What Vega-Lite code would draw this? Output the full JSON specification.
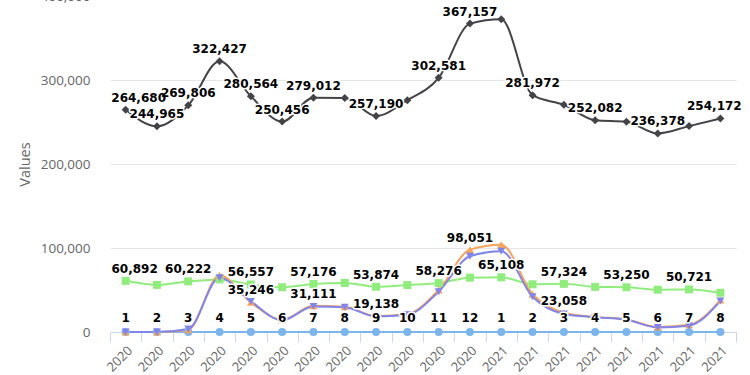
{
  "$schema": "https://vega.github.io/schema/vega-lite/v6.json",
  "width": 626,
  "height": 336,
  "autosize": {"type": "none"},
  "padding": {"left": 110, "right": 14, "top": -4, "bottom": 43},
  "config": {"view": {"stroke": null}, "font": "Open Sans"},
  "data": {"values": [
    {"p":"2020-01","m":1,"s":"s1","v":0,"l":0},{"p":"2020-02","m":2,"s":"s1","v":0,"l":0},{"p":"2020-03","m":3,"s":"s1","v":0,"l":0},{"p":"2020-04","m":4,"s":"s1","v":0,"l":0},{"p":"2020-05","m":5,"s":"s1","v":0,"l":0},{"p":"2020-06","m":6,"s":"s1","v":0,"l":0},{"p":"2020-07","m":7,"s":"s1","v":0,"l":0},{"p":"2020-08","m":8,"s":"s1","v":0,"l":0},{"p":"2020-09","m":9,"s":"s1","v":0,"l":0},{"p":"2020-10","m":10,"s":"s1","v":0,"l":0},{"p":"2020-11","m":11,"s":"s1","v":0,"l":0},{"p":"2020-12","m":12,"s":"s1","v":0,"l":0},{"p":"2021-01","m":1,"s":"s1","v":0,"l":0},{"p":"2021-02","m":2,"s":"s1","v":0,"l":0},{"p":"2021-03","m":3,"s":"s1","v":0,"l":0},{"p":"2021-04","m":4,"s":"s1","v":0,"l":0},{"p":"2021-05","m":5,"s":"s1","v":0,"l":0},{"p":"2021-06","m":6,"s":"s1","v":0,"l":0},{"p":"2021-07","m":7,"s":"s1","v":0,"l":0},{"p":"2021-08","m":8,"s":"s1","v":0,"l":0},
    {"p":"2020-01","m":1,"s":"s2","v":264680,"l":1},{"p":"2020-02","m":2,"s":"s2","v":244965,"l":1},{"p":"2020-03","m":3,"s":"s2","v":269806,"l":1},{"p":"2020-04","m":4,"s":"s2","v":322427,"l":1},{"p":"2020-05","m":5,"s":"s2","v":280564,"l":1},{"p":"2020-06","m":6,"s":"s2","v":250456,"l":1},{"p":"2020-07","m":7,"s":"s2","v":279012,"l":1},{"p":"2020-08","m":8,"s":"s2","v":278500,"l":0},{"p":"2020-09","m":9,"s":"s2","v":257190,"l":1},{"p":"2020-10","m":10,"s":"s2","v":276000,"l":0},{"p":"2020-11","m":11,"s":"s2","v":302581,"l":1},{"p":"2020-12","m":12,"s":"s2","v":367157,"l":1},{"p":"2021-01","m":1,"s":"s2","v":372400,"l":0},{"p":"2021-02","m":2,"s":"s2","v":281972,"l":1},{"p":"2021-03","m":3,"s":"s2","v":270400,"l":0},{"p":"2021-04","m":4,"s":"s2","v":252082,"l":1},{"p":"2021-05","m":5,"s":"s2","v":250400,"l":0},{"p":"2021-06","m":6,"s":"s2","v":236378,"l":1},{"p":"2021-07","m":7,"s":"s2","v":245100,"l":0},{"p":"2021-08","m":8,"s":"s2","v":254172,"l":1},
    {"p":"2020-01","m":1,"s":"s3","v":60892,"l":1},{"p":"2020-02","m":2,"s":"s3","v":56100,"l":0},{"p":"2020-03","m":3,"s":"s3","v":60222,"l":1},{"p":"2020-04","m":4,"s":"s3","v":62600,"l":0},{"p":"2020-05","m":5,"s":"s3","v":56557,"l":1},{"p":"2020-06","m":6,"s":"s3","v":53300,"l":0},{"p":"2020-07","m":7,"s":"s3","v":57176,"l":1},{"p":"2020-08","m":8,"s":"s3","v":58400,"l":0},{"p":"2020-09","m":9,"s":"s3","v":53874,"l":1},{"p":"2020-10","m":10,"s":"s3","v":55900,"l":0},{"p":"2020-11","m":11,"s":"s3","v":58276,"l":1},{"p":"2020-12","m":12,"s":"s3","v":64700,"l":0},{"p":"2021-01","m":1,"s":"s3","v":65108,"l":1},{"p":"2021-02","m":2,"s":"s3","v":56800,"l":0},{"p":"2021-03","m":3,"s":"s3","v":57324,"l":1},{"p":"2021-04","m":4,"s":"s3","v":53700,"l":0},{"p":"2021-05","m":5,"s":"s3","v":53250,"l":1},{"p":"2021-06","m":6,"s":"s3","v":50300,"l":0},{"p":"2021-07","m":7,"s":"s3","v":50721,"l":1},{"p":"2021-08","m":8,"s":"s3","v":46700,"l":0},
    {"p":"2020-01","m":1,"s":"s4","v":0,"l":0},{"p":"2020-02","m":2,"s":"s4","v":0,"l":0},{"p":"2020-03","m":3,"s":"s4","v":2500,"l":0},{"p":"2020-04","m":4,"s":"s4","v":67500,"l":0},{"p":"2020-05","m":5,"s":"s4","v":35246,"l":1},{"p":"2020-06","m":6,"s":"s4","v":14500,"l":0},{"p":"2020-07","m":7,"s":"s4","v":31111,"l":1},{"p":"2020-08","m":8,"s":"s4","v":30000,"l":0},{"p":"2020-09","m":9,"s":"s4","v":19138,"l":1},{"p":"2020-10","m":10,"s":"s4","v":21500,"l":0},{"p":"2020-11","m":11,"s":"s4","v":50000,"l":0},{"p":"2020-12","m":12,"s":"s4","v":98051,"l":1},{"p":"2021-01","m":1,"s":"s4","v":104000,"l":0},{"p":"2021-02","m":2,"s":"s4","v":45000,"l":0},{"p":"2021-03","m":3,"s":"s4","v":23058,"l":1},{"p":"2021-04","m":4,"s":"s4","v":18000,"l":0},{"p":"2021-05","m":5,"s":"s4","v":15000,"l":0},{"p":"2021-06","m":6,"s":"s4","v":6000,"l":0},{"p":"2021-07","m":7,"s":"s4","v":8500,"l":0},{"p":"2021-08","m":8,"s":"s4","v":38000,"l":0},
    {"p":"2020-01","m":1,"s":"s5","v":0,"l":0},{"p":"2020-02","m":2,"s":"s5","v":0,"l":0},{"p":"2020-03","m":3,"s":"s5","v":3500,"l":0},{"p":"2020-04","m":4,"s":"s5","v":64500,"l":0},{"p":"2020-05","m":5,"s":"s5","v":36500,"l":0},{"p":"2020-06","m":6,"s":"s5","v":14000,"l":0},{"p":"2020-07","m":7,"s":"s5","v":30500,"l":0},{"p":"2020-08","m":8,"s":"s5","v":29500,"l":0},{"p":"2020-09","m":9,"s":"s5","v":18500,"l":0},{"p":"2020-10","m":10,"s":"s5","v":20500,"l":0},{"p":"2020-11","m":11,"s":"s5","v":48000,"l":0},{"p":"2020-12","m":12,"s":"s5","v":90200,"l":0},{"p":"2021-01","m":1,"s":"s5","v":96200,"l":0},{"p":"2021-02","m":2,"s":"s5","v":42000,"l":0},{"p":"2021-03","m":3,"s":"s5","v":21500,"l":0},{"p":"2021-04","m":4,"s":"s5","v":17500,"l":0},{"p":"2021-05","m":5,"s":"s5","v":14500,"l":0},{"p":"2021-06","m":6,"s":"s5","v":5500,"l":0},{"p":"2021-07","m":7,"s":"s5","v":7500,"l":0},{"p":"2021-08","m":8,"s":"s5","v":37000,"l":0}
  ]},
  "encoding": {
    "x": {
      "field": "p", "type": "nominal",
      "scale": {"type": "band", "paddingInner": 0, "paddingOuter": 0},
      "axis": {"title": null, "labelExpr": "substring(datum.label, 0, 4)", "labelAngle": -45, "labelFontSize": 13, "labelColor": "#666666", "tickBand": "extent", "tickColor": "#ccd6eb", "tickSize": 10, "domainColor": "#ccd6eb", "grid": false, "labelPadding": 2}
    },
    "y": {
      "field": "v", "type": "quantitative",
      "scale": {"domain": [0, 400000], "nice": false},
      "axis": {"title": "Values", "values": [0, 100000, 200000, 300000, 400000], "format": ",d", "domain": false, "ticks": false, "gridColor": "#e6e6e6", "labelColor": "#666666", "labelFontSize": 13.5, "labelPadding": 20, "titleColor": "#666666", "titleFontSize": 14.5, "titleFontWeight": "normal", "titlePadding": 8}
    },
    "color": {"field": "s", "type": "nominal", "scale": {"domain": ["s1", "s2", "s3", "s4", "s5"], "range": ["#7cb5ec", "#434348", "#90ed7d", "#f7a35c", "#8085e9"]}, "legend": null}
  },
  "layer": [
    {"mark": {"type": "line", "interpolate": "monotone", "strokeWidth": 2}},
    {"mark": {"type": "point", "filled": true, "opacity": 1, "size": 64},
     "encoding": {"shape": {"field": "s", "type": "nominal", "scale": {"domain": ["s1", "s2", "s3", "s4", "s5"], "range": ["circle", "diamond", "square", "triangle-up", "triangle-down"]}, "legend": null}}},
    {"transform": [{"filter": "datum.s == 's1'"}],
     "mark": {"type": "text", "font": "DejaVu Sans", "fontWeight": "bold", "fontSize": 12, "baseline": "bottom", "dy": -7, "stroke": "white", "strokeWidth": 3, "strokeJoin": "round"},
     "encoding": {"text": {"field": "m", "type": "nominal"}, "color": {"value": "white"}}},
    {"transform": [{"filter": "datum.s == 's1'"}],
     "mark": {"type": "text", "font": "DejaVu Sans", "fontWeight": "bold", "fontSize": 12, "baseline": "bottom", "dy": -7},
     "encoding": {"text": {"field": "m", "type": "nominal"}, "color": {"value": "#000000"}}},
    {"transform": [{"filter": "datum.s != 's1' && datum.l == 1"}],
     "mark": {"type": "text", "font": "DejaVu Sans", "fontWeight": "bold", "fontSize": 12, "baseline": "bottom", "dy": -5, "stroke": "white", "strokeWidth": 3, "strokeJoin": "round",
              "dx": {"expr": "datum.p == '2020-01' ? (datum.v > 99999 ? 13 : 9) : (datum.p == '2021-08' ? -6 : 0)"}},
     "encoding": {"text": {"field": "v", "type": "quantitative", "format": ","}, "color": {"value": "white"}}},
    {"transform": [{"filter": "datum.s != 's1' && datum.l == 1"}],
     "mark": {"type": "text", "font": "DejaVu Sans", "fontWeight": "bold", "fontSize": 12, "baseline": "bottom", "dy": -5,
              "dx": {"expr": "datum.p == '2020-01' ? (datum.v > 99999 ? 13 : 9) : (datum.p == '2021-08' ? -6 : 0)"}},
     "encoding": {"text": {"field": "v", "type": "quantitative", "format": ","}, "color": {"value": "#000000"}}}
  ]
}
